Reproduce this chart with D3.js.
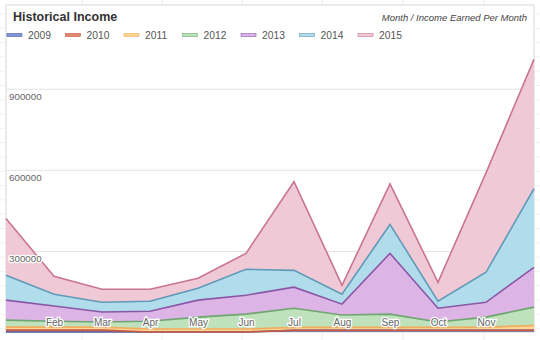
<!DOCTYPE html>
<html><head><meta charset="utf-8">
<script src="https://cdn.jsdelivr.net/npm/d3@7"></script>
<style>
html,body{margin:0;padding:0;background:#fff;}
svg{display:block;font-family:"Liberation Sans",Arial,sans-serif;}
</style></head>
<body>
<svg id="c" width="540" height="340"></svg>
<script>
const months = ["Jan","Feb","Mar","Apr","May","Jun","Jul","Aug","Sep","Oct","Nov","Dec"];
const xTickLabels = ["Feb","Mar","Apr","May","Jun","Jul","Aug","Sep","Oct","Nov"];
const yTickValues = [300000, 600000, 900000];
const seriesNames = ["2009","2010","2011","2012","2013","2014","2015"];
const s2009 = [0,0,0,0,0,0,6000,6000,6000,6000,6000,6000];
const s2010 = [7000,7000,7000,0,0,0,0,0,0,0,0,0];
const s2011 = [11000,11000,11000,11000,11000,11000,11000,11000,11000,11000,12000,18000];
const s2012 = [26000,22000,19000,29000,44000,55000,71000,46000,49000,20000,37000,68000];
const s2013 = [74000,56000,37000,37000,63000,70000,78000,40000,225000,51000,55000,147000];
const s2014 = [92000,44000,36000,37000,44000,96000,62000,37000,107000,26000,111000,291000];
const s2015 = [210000,66000,48000,44000,37000,59000,328000,33000,150000,70000,368000,479000];
const fills =   ["#7f94d6","#e2876f","#fbd596","#bfe1bb","#dcb5e6","#b1dceb","#f0c9d7"];
const strokes = ["#4d5fa3","#c95a40","#f2ad5c","#6fa56f","#8b56a6","#5f9ab6","#c97592"];

const seriesValues = [s2009,s2010,s2011,s2012,s2013,s2014,s2015];
const table = months.map((m,i)=>{
  const r = {month:m};
  seriesNames.forEach((n,j)=>r[n]=seriesValues[j][i]);
  return r;
});

const svg = d3.select("#c");
const L=6, R=534, T=5, B=332;

// faint page background grid
const bg = svg.append("g");
[82,162,242,322,403,484].forEach(x=>bg.append("line").attr("x1",x).attr("x2",x).attr("y1",0).attr("y2",340).attr("stroke","#ececec"));
for(let y=14;y<340;y+=14.3) bg.append("line").attr("x1",0).attr("x2",540).attr("y1",y).attr("y2",y).attr("stroke","#f1f1f1");

// panel
svg.append("rect").attr("x",L).attr("y",T).attr("width",R-L).attr("height",B-T)
  .attr("fill","#fff").attr("stroke","#d8d8d8");

const x = d3.scalePoint().domain(months).range([L,R]);
const y = d3.scaleLinear().domain([0,1210000]).range([B,T]);

// grid lines
const yAxis = svg.append("g").attr("transform",`translate(${L},0)`)
  .call(d3.axisLeft(y).tickValues(yTickValues).tickSize(-(R-L)).tickFormat(d3.format("d")));
yAxis.select(".domain").remove();
yAxis.selectAll(".tick line").attr("stroke","#e4e4e4");
yAxis.selectAll(".tick text").remove();

const stack = d3.stack().keys(seriesNames);
const layers = stack(table);
const area = d3.area().x(d=>x(d.data.month)).y0(d=>y(d[0])).y1(d=>y(d[1]));
const line = d3.line().x(d=>x(d.data.month)).y(d=>y(d[1]));

const g = svg.append("g");
g.selectAll("path.a").data(layers).join("path").attr("class","a")
  .attr("d",area).attr("fill",(d,i)=>fills[i]);
g.selectAll("path.l").data(layers).join("path").attr("class","l")
  .attr("d",line).attr("fill","none").attr("stroke",(d,i)=>strokes[i]).attr("stroke-width",1.6);

// y labels (inside, below gridline)
const yl = svg.append("g");
yl.selectAll("text").data(yTickValues).join("text")
  .attr("x",L+3).attr("y",d=>y(d)+11)
  .attr("font-size",9.8).attr("fill","#666")
  .attr("stroke","#fff").attr("stroke-width",2.5).attr("paint-order","stroke")
  .text(d=>d3.format("d")(d));

// x labels via axis
const xAxis = svg.append("g").attr("transform",`translate(0,${B})`)
  .call(d3.axisBottom(x).tickValues(xTickLabels).tickSize(0));
xAxis.select(".domain").remove();
xAxis.selectAll(".tick text").attr("dy",0).attr("y",-6)
  .attr("font-size",10).attr("fill","#666").attr("font-family","Liberation Sans, Arial, sans-serif")
  .attr("stroke","#fff").attr("stroke-width",2.5).attr("paint-order","stroke");

// title & subtitle
svg.append("text").attr("x",13).attr("y",21).attr("font-size",12.5).attr("font-weight","bold")
  .attr("fill","#333").text("Historical Income");
svg.append("text").attr("x",527).attr("y",21).attr("text-anchor","end").attr("font-size",9.5)
  .attr("font-style","italic").attr("fill","#444").text("Month / Income Earned Per Month");

// legend
const lg = svg.append("g");
seriesNames.forEach((n,i)=>{
  const lx = 7 + i*58.5;
  lg.append("rect").attr("x",lx).attr("y",33.5).attr("width",15).attr("height",3)
    .attr("fill",fills[i]).attr("stroke",strokes[i]).attr("stroke-width",0.6);
  lg.append("text").attr("x",lx+21).attr("y",39).attr("font-size",10.3).attr("fill","#555").text(n);
});
</script>
</body></html>
